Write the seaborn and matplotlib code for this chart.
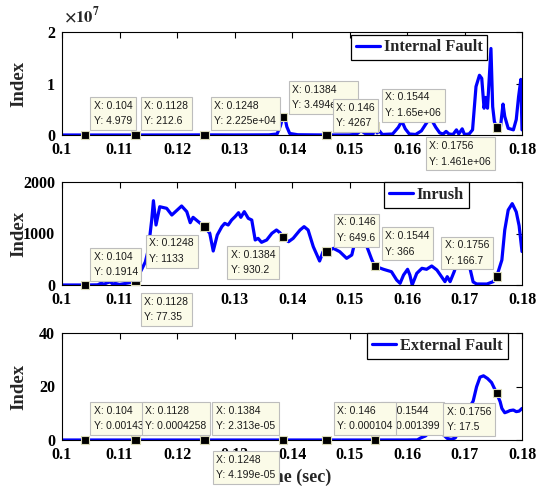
import matplotlib
matplotlib.use("Agg")
import matplotlib.pyplot as plt
import seaborn as sns
import numpy as np
import pandas as pd

# ---------------- data ----------------
t_internal = [0.1000, 0.1040, 0.1128, 0.1200, 0.1248, 0.1300, 0.1360, 0.1374, 0.1380, 0.1384,
              0.1387, 0.1391, 0.1396, 0.1410, 0.1440, 0.1460, 0.1500, 0.1512, 0.1520, 0.1527,
              0.1535, 0.1541, 0.1544, 0.1548, 0.1552, 0.1557, 0.1575, 0.1585, 0.1591, 0.1597,
              0.1604, 0.1615, 0.1625, 0.1632, 0.1638, 0.1643, 0.1650, 0.1657, 0.1663, 0.1668,
              0.1673, 0.1680, 0.1686, 0.1690, 0.1696, 0.1700, 0.1708, 0.1714, 0.1720, 0.1726,
              0.1730, 0.1734, 0.1737, 0.1740, 0.1746, 0.1749, 0.1752, 0.1756, 0.1762, 0.1767,
              0.1770, 0.1776, 0.1785, 0.1790, 0.1794, 0.1798, 0.1800]
v_internal = [0, 4.979, 212.6, 5e3, 2.225e4, 1e4, 3e4, 2e5, 1.8e6, 3.494e6,
              3.7e6, 1.6e6, 3e5, 5e4, 2e4, 4267, 2e4, 1.5e5, 8.5e5, 3e5,
              1e5, 2e5, 1.65e6, 4e5, 8e5, 1e5, 2e5, 1.5e6, 2.7e6, 1.2e6,
              2e5, 1e5, 8e5, 2.0e6, 3.0e6, 2.9e6, 1.5e6, 4e5, 2e5, 7e5,
              2e5, 1e5, 1.0e6, 2e5, 1.2e6, 1e5, 2e5, 1e6, 9.4e6, 11.6e6,
              11.0e6, 5.2e6, 7.3e6, 5.2e6, 16.8e6, 5.5e6, 2.6e6, 1.461e6, 1.0e6, 6.0e6,
              3.6e6, 1.3e6, 1.0e6, 3e6, 7.4e6, 10.8e6, 1.0e6]

t_inrush = [0.1000, 0.1040, 0.1062, 0.1068, 0.1073, 0.1079, 0.1084, 0.1088, 0.1093, 0.1100,
            0.1110, 0.1120, 0.1128, 0.1138, 0.1145, 0.1150, 0.1156, 0.1159, 0.11635, 0.1170,
            0.1182, 0.1191, 0.1208, 0.1217, 0.1223, 0.1228, 0.1237, 0.1248, 0.1257, 0.1263,
            0.1270, 0.1278, 0.1283, 0.1289, 0.1295, 0.1301, 0.1307, 0.1311, 0.1317, 0.1324,
            0.1330, 0.1336, 0.1341, 0.1347, 0.1356, 0.1365, 0.1373, 0.1379, 0.1384, 0.1394,
            0.1402, 0.1414, 0.1421, 0.1428, 0.1437, 0.1448, 0.1454, 0.1460, 0.1472, 0.1483,
            0.1495, 0.1504, 0.1513, 0.1520, 0.1527, 0.1539, 0.1544, 0.1559, 0.1573, 0.1582,
            0.1588, 0.1594, 0.1601, 0.1605, 0.1609, 0.1617, 0.1626, 0.1634, 0.1643, 0.1652,
            0.1660, 0.1666, 0.1670, 0.1675, 0.1682, 0.1692, 0.1702, 0.1710, 0.1715, 0.1721,
            0.1739, 0.1750, 0.1756, 0.1765, 0.1770, 0.1776, 0.1783, 0.1790, 0.1795, 0.1800]
v_inrush = [0, 0.1914, 3, 35, 15, 45, 60, 20, 30, 10,
            30, 50, 77.35, 290, 450, 680, 1262, 1637, 1165, 1520,
            1489, 1359, 1534, 1424, 1210, 1314, 1230, 1133, 1003, 660,
            971, 1133, 1197, 1165, 1262, 1327, 1404, 1314, 1424, 1294,
            1262, 874, 906, 829, 874, 1003, 1068, 1016, 930.2, 841,
            906, 1068, 1133, 1068, 744, 466, 647, 649.6, 712, 647,
            518, 583, 1003, 1050, 841, 485, 366, 305, 258, 97,
            33, 194, 305, 194, 0, 227, 324, 305, 369, 291,
            162, 65, 162, 65, 258, 600, 700, 300, 60, 20,
            19, 65, 166.7, 485, 1068, 1456, 1580, 1420, 1150, 650]

t_external = [0.1000, 0.1040, 0.1128, 0.1248, 0.1384, 0.1460, 0.1544, 0.1600, 0.1618, 0.1624,
              0.1632, 0.1640, 0.1648, 0.1656, 0.1663, 0.1670, 0.1677, 0.1684, 0.1692, 0.1700,
              0.1708, 0.1715, 0.1721, 0.1727, 0.1733, 0.1740, 0.1747, 0.1756, 0.1762, 0.1765,
              0.1770, 0.1775, 0.1779, 0.1785, 0.1790, 0.1795, 0.1800]
v_external = [0, 0.00143, 0.0004258, 4.199e-05, 2.313e-05, 0.000104, 0.001399, 0.01, 0.05, 0.8,
              1.5, 3.0, 4.5, 4.0, 2.0, 0.6, 0.2, 0.8, 4.0, 9.0,
              12.0, 14.5, 19.9, 23.5, 24.0, 23.0, 21.5, 17.5, 14.3, 11.8,
              10.2, 10.6, 11.0, 11.2, 10.6, 10.8, 11.8]

tip_x = [0.104, 0.1128, 0.1248, 0.1384, 0.146, 0.1544, 0.1756]
tip_internal = [4.979, 212.6, 2.225e4, 3.494e6, 4267, 1.65e6, 1.461e6]
tip_inrush = [0.1914, 77.35, 1133, 930.2, 649.6, 366, 166.7]
tip_external = [0.00143, 0.0004258, 4.199e-05, 2.313e-05, 0.000104, 0.001399, 17.5]

series_names = ["Internal Fault", "Inrush", "External Fault"]
xticks = [0.10, 0.11, 0.12, 0.13, 0.14, 0.15, 0.16, 0.17, 0.18]
xtick_labels = ["0.1", "0.11", "0.12", "0.13", "0.14", "0.15", "0.16", "0.17", "0.18"]
yticks_internal = [0, 1e7, 2e7]
ytick_labels_internal = ["0", "1", "2"]
yticks_inrush = [0, 1000, 2000]
ytick_labels_inrush = ["0", "1000", "2000"]
yticks_external = [0, 20, 40]
ytick_labels_external = ["0", "20", "40"]
y_label = "Index"
x_label = "Time (sec)"
offset_label = r"$\times10^{7}$"

# ---------------- style / layout ----------------
sns.set_style("white")
plt.rcParams["font.family"] = ["Liberation Serif", "DejaVu Serif"]
plt.rcParams["font.weight"] = "bold"
plt.rcParams["mathtext.fontset"] = "stix"

DPI = 100
fig = plt.figure(figsize=(5.40, 4.87), dpi=DPI)
rects = [
    [62 / 540, 1 - 135 / 487, 460 / 540, 103 / 487],
    [62 / 540, 1 - 285 / 487, 460 / 540, 103 / 487],
    [62 / 540, 1 - 440 / 487, 460 / 540, 107 / 487],
]
legend_anchor = [(0.628, 0.975), (0.700, 1.0), (0.664, 1.0)]
# corner of datatip box relative to marker and gap (px)
placements = [
    [("ur", 5, 5), ("ur", 5, 5), ("ur", 6, 5), ("ur", 6, 3), ("ur", 6, 3), ("ur", 7, 5), ("ll", 2, 10)],
    [("ur", 5, 4), ("lr", 5, 12), ("ll", 7, 8), ("ll", 4, 9), ("ur", 7, 5), ("ur", 7, 6), ("ul", 4, 7)],
    [("ur", 5, 5), ("ur", 6, 5), ("lr", 8, 11), ("ul", 4, 5), ("ur", 7, 5), ("ur", 6, 5), ("ll", 2, 10)],
]
zorders = [
    [10, 11, 12, 13, 14, 15, 16],
    [10, 11, 12, 13, 14, 15, 16],
    [10, 11, 12, 13, 15, 14, 16],
]
marker_colors = [
    ["black"] * 5 + ["#8a8a8a", "black"],
    ["black"] * 7,
    ["black"] * 7,
]

datasets = [
    (t_internal, v_internal, tip_internal, yticks_internal, ytick_labels_internal),
    (t_inrush, v_inrush, tip_inrush, yticks_inrush, ytick_labels_inrush),
    (t_external, v_external, tip_external, yticks_external, ytick_labels_external),
]

FS_TICK = 11.5
FS_TIP = 7.5
pad_frac = 0.35
pad_px = pad_frac * FS_TIP * DPI / 72.0

for i, (t, v, tips, yt, ytl) in enumerate(datasets):
    ax = fig.add_axes(rects[i])
    df = pd.DataFrame({"t": t, "v": v})
    sns.lineplot(data=df, x="t", y="v", ax=ax, color="#0000ff", linewidth=2.3,
                 label=series_names[i], sort=False, estimator=None)
    ax.set_xlim(0.1, 0.18)
    ax.set_ylim(yt[0], yt[-1])
    ax.set_xticks(xticks)
    ax.set_xticklabels(xtick_labels)
    ax.set_yticks(yt)
    ax.set_yticklabels(ytl)
    ax.tick_params(direction="in", top=True, right=True, length=4, width=0.8,
                   labelsize=FS_TICK, pad=5, colors="black")
    for lab in ax.get_xticklabels() + ax.get_yticklabels():
        lab.set_fontweight("bold")
        lab.set_family(["Liberation Serif"])
    for sp in ax.spines.values():
        sp.set_visible(True)
        sp.set_color("black")
        sp.set_linewidth(0.8)
    ax.set_ylabel(y_label, fontsize=13.5, fontweight="bold", family=["Liberation Serif"])
    ax.yaxis.set_label_coords(-0.075, 0.5)
    if i == 2:
        ax.set_xlabel(x_label, fontsize=13, fontweight="bold", family=["Liberation Serif"])
        ax.xaxis.set_label_coords(0.5, -0.27)
    else:
        ax.set_xlabel("")

    leg = ax.legend(loc="upper left", bbox_to_anchor=legend_anchor[i], borderaxespad=0,
                    frameon=True, fancybox=False, framealpha=1, edgecolor="black",
                    handlelength=1.45, handletextpad=0.25, borderpad=0.3,
                    prop={"family": "Liberation Serif", "weight": "bold", "size": 11.8})
    leg.get_frame().set_linewidth(0.9)
    for h in leg.get_lines():
        h.set_linewidth(2.3)
    leg.set_zorder(8)

    if i == 0:
        ax.text(0.004, 1.06, offset_label, transform=ax.transAxes, ha="left", va="bottom",
                fontsize=12, fontweight="normal")

    ax.scatter(tip_x, tips, marker="s", s=36, c=marker_colors[i], edgecolors="#d9d9b8",
               linewidths=0.8, zorder=6, clip_on=False)

    for j, (x, y) in enumerate(zip(tip_x, tips)):
        corner, gx, gy = placements[i][j]
        sx = 1 if corner[1] == "r" else -1
        sy = 1 if corner[0] == "u" else -1
        ax.annotate(f"X: {x:.4g}\nY: {y:.4g}", xy=(x, y), xycoords="data",
                    xytext=(sx * (gx + pad_px), sy * (gy + pad_px)), textcoords="offset pixels",
                    ha="left" if sx > 0 else "right", va="bottom" if sy > 0 else "top",
                    multialignment="left",
                    fontsize=FS_TIP, fontweight="normal", family=["Liberation Sans"],
                    linespacing=1.7, color="#1a1a1a", annotation_clip=False,
                    zorder=zorders[i][j],
                    bbox=dict(boxstyle=f"square,pad={pad_frac}", fc="#fbfbe8", ec="#bdbdbd", lw=0.8))

fig.savefig("out.png", dpi=DPI)
